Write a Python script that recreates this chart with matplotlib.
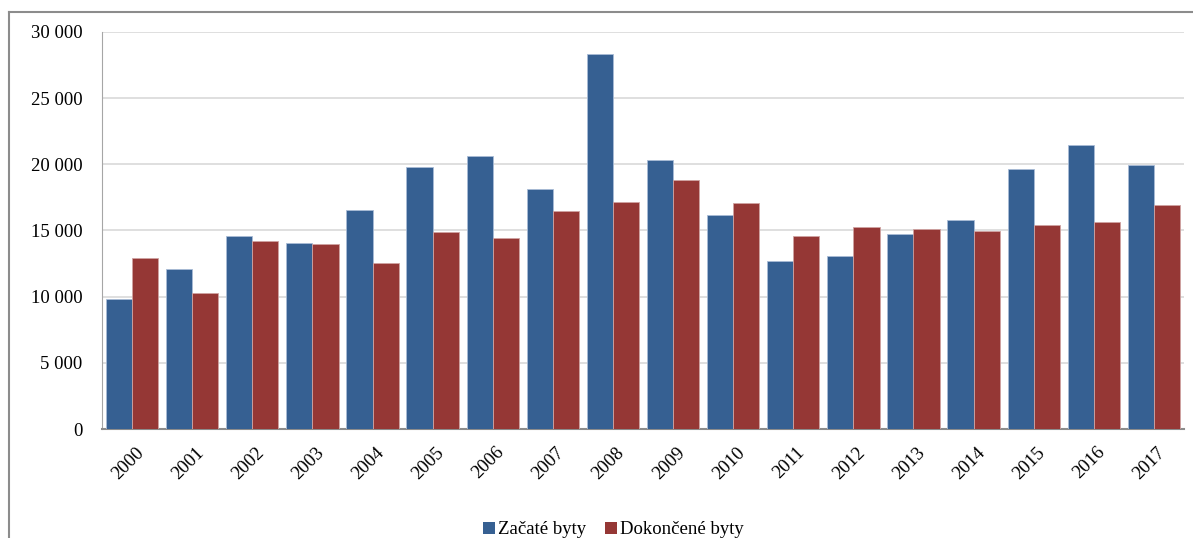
import numpy as np
import matplotlib
matplotlib.use("Agg")
import matplotlib.pyplot as plt
import matplotlib.transforms as mtransforms
from matplotlib.patches import Patch
from matplotlib.lines import Line2D
from matplotlib.ticker import FuncFormatter

years = [str(y) for y in range(2000, 2018)]
zacate = [9850, 12120, 14590, 14040, 16560, 19770, 20600, 18110, 28330,
          20300, 16180, 12730, 13050, 14720, 15800, 19620, 21440, 19920]
dokoncene = [12900, 10270, 14190, 13960, 12580, 14850, 14420, 16460, 17170,
             18810, 17070, 14590, 15230, 15080, 14970, 15450, 15650, 16920]
series_names = ["Začaté byty", "Dokončené byty"]

blue = "#366092"
red = "#953735"

plt.rcParams["font.family"] = ["Liberation Serif", "DejaVu Serif"]
plt.rcParams["font.size"] = 13.5

fig = plt.figure(figsize=(11.93, 5.38), dpi=100)
ax = fig.add_axes([102 / 1193, 1 - 429 / 538, 1082 / 1193, 397 / 538])

x = np.arange(len(years))
w = 0.436
ax.bar(x - w / 2, zacate, w, color=blue, edgecolor="#a9bcd6", linewidth=0.6, zorder=3)
ax.bar(x + w / 2, dokoncene, w, color=red, edgecolor="#cfa3a2", linewidth=0.6, zorder=3)

ax.set_xlim(-0.5, len(years) - 0.5)
ax.set_ylim(0, 30000)
ax.set_yticks(np.arange(0, 30001, 5000))
ax.yaxis.set_major_formatter(FuncFormatter(lambda v, p: f"{int(v):,}".replace(",", " ")))
ax.grid(axis="y", color="#d9d9d9", linewidth=1.2, zorder=0)
ax.tick_params(axis="y", length=0, pad=14)
ax.tick_params(axis="x", length=0, pad=15)

ax.set_xticks(x)
ax.set_xticklabels(years, rotation=45, ha="right", va="center", rotation_mode="anchor")
shift = mtransforms.ScaledTranslation(9 / 100, 0, fig.dpi_scale_trans)
for lab in ax.get_xticklabels():
    lab.set_transform(lab.get_transform() + shift)

for s in ["top", "right"]:
    ax.spines[s].set_visible(False)
ax.spines["left"].set_color("#a6a6a6")
ax.spines["bottom"].set_color("#8c8c8c")
ax.spines["bottom"].set_linewidth(1.5)

# outer chart frame
fig.add_artist(Line2D([9 / 1193, 9 / 1193], [0, 1 - 12 / 538], transform=fig.transFigure,
                      color="#8c8c8c", linewidth=1.5))
fig.add_artist(Line2D([9 / 1193, 1], [1 - 12 / 538, 1 - 12 / 538], transform=fig.transFigure,
                      color="#8c8c8c", linewidth=1.5))

handles = [Patch(facecolor=blue), Patch(facecolor=red)]
fig.legend(handles, series_names, loc="center", bbox_to_anchor=(613 / 1193, 1 - 530 / 538),
           ncol=2, frameon=False, handlelength=0.65, handleheight=0.65,
           handletextpad=0.15, columnspacing=1.0, borderpad=0)

fig.savefig("out.png", dpi=100)
